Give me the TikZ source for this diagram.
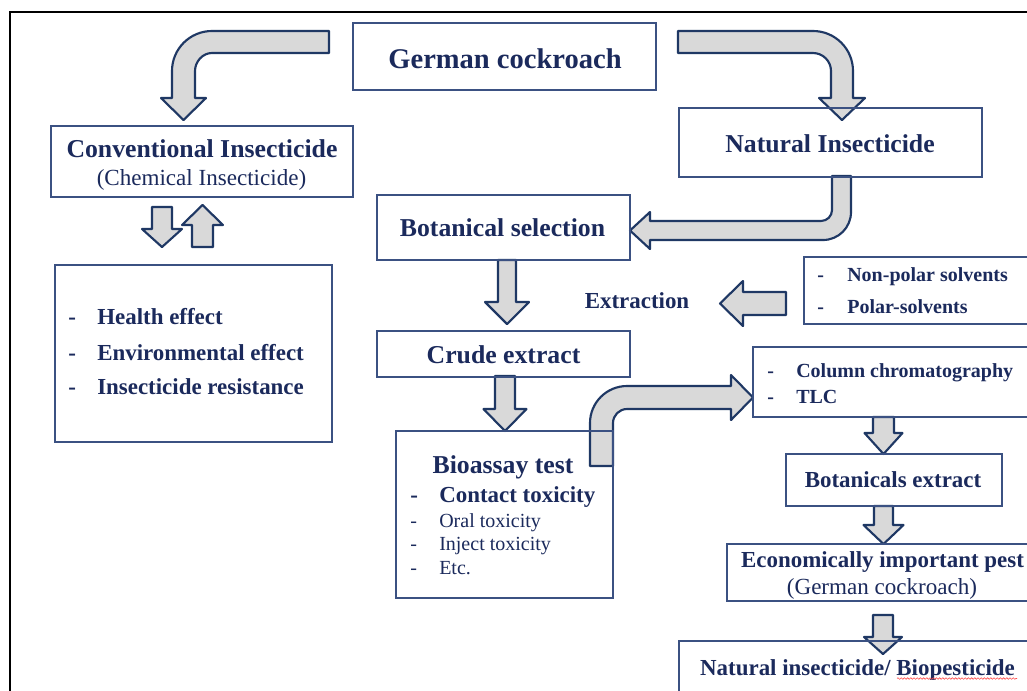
\documentclass[tikz,border=0pt]{standalone}
\usepackage{fontspec}
\setmainfont{Liberation Serif}
\usetikzlibrary{decorations.pathmorphing}
\definecolor{txt}{HTML}{1B2A5C}
\definecolor{bx}{HTML}{3B5182}
\definecolor{arw}{HTML}{1F3864}
\definecolor{agray}{HTML}{D9D9D9}
\newcommand\fsXL{\fontsize{21.4pt}{25pt}\selectfont\bfseries}
\newcommand\fsL{\fontsize{19.3pt}{23pt}\selectfont\bfseries}
\newcommand\fsM{\fontsize{17.2pt}{21pt}\selectfont\bfseries}
\newcommand\fsMr{\fontsize{17.3pt}{21pt}\selectfont}
\newcommand\fsS{\fontsize{15pt}{18pt}\selectfont\bfseries}
\newcommand\fsSr{\fontsize{15pt}{18pt}\selectfont}
\newcommand\mkvarrow[6]{\draw[barrow] ({#1-#5},#2) -- ({#1-#5},#3) -- ({#1-#6},#3) -- (#1,#4) -- ({#1+#6},#3) -- ({#1+#5},#3) -- ({#1+#5},#2) -- cycle;}
\newcommand\mkharrow[6]{\draw[barrow] (#2,{#1-#5}) -- (#3,{#1-#5}) -- (#3,{#1-#6}) -- (#4,#1) -- (#3,{#1+#6}) -- (#3,{#1+#5}) -- (#2,{#1+#5}) -- cycle;}
\tikzset{
  barrow/.style={fill=agray, draw=arw, line width=1.6pt, line join=round},
  boxline/.style={draw=bx, line width=0.95pt},
  lbl/.style={inner sep=0pt, text=txt, anchor=base},
  lbll/.style={inner sep=0pt, text=txt, anchor=base west},
}
\begin{document}
\begin{tikzpicture}[x=0.75pt, y=-0.75pt]
\useasboundingbox (0,0) rectangle (1027,690);
\clip (0,0) rectangle (1027,690);
\fill[white] (0,0) rectangle (1027,690);
% outer frame
\draw[black, line width=1.6pt] (10,700) -- (10,12) -- (1040,12);

% ---- block arrows ----
% German cockroach -> Conventional
\draw[barrow] (329,31) -- (212,31) .. controls (189.9,31) and (172,48.9) .. (172,71) -- (172,98) -- (161,98) -- (183.5,120) -- (206,98) -- (195,98) -- (195,71) .. controls (195,61.6) and (202.6,53) .. (212,53) -- (329,53) -- cycle;
% German cockroach -> Natural
\draw[barrow] (678,31) -- (813,31) .. controls (835.1,31) and (853,48.9) .. (853,71) -- (853,98) -- (865,98) -- (842,120) -- (819,98) -- (831,98) -- (831,71) .. controls (831,61.1) and (822.9,53) .. (813,53) -- (678,53) -- cycle;
% Natural -> Botanical selection
\draw[barrow] (832,176) -- (851,176) -- (851,212) .. controls (851,227.5) and (838.5,240) .. (823,240) -- (650,240) -- (650,249) -- (630,230.5) -- (650,212) -- (650,221) -- (821,221) .. controls (827.1,221) and (832,216.1) .. (832,210) -- cycle;
% Bioassay -> Column chromatography
\draw[barrow] (590,466) -- (590,423) .. controls (590,402.6) and (606.6,386) .. (627,386) -- (731,386) -- (731,375) -- (753,397.5) -- (731,420) -- (731,409) -- (627,409) .. controls (619.3,409) and (613,415.3) .. (613,423) -- (613,466) -- cycle;
% straight arrows
\mkvarrow{162}{207}{229}{247}{10}{20}
\mkvarrow{202.5}{247}{225}{205}{10.5}{20.5}
\mkvarrow{507}{260}{302}{324}{9}{22}
\mkvarrow{505}{376}{409}{431}{10}{21.5}
\mkvarrow{883.5}{417}{433}{454}{10.5}{19}
\mkvarrow{883.5}{506}{525}{544}{9.5}{20}
\mkvarrow{883}{615}{637}{654}{10}{19}
\mkharrow{303.5}{786}{743}{720}{11.5}{22.5}

% ---- boxes ----
\draw[boxline] (353,23) rectangle (656,90);
\draw[boxline] (51,126) rectangle (353,197);
\draw[boxline] (55,265) rectangle (332,442);
\draw[boxline] (679,108) rectangle (982,177);
\draw[boxline] (377,195) rectangle (630,260);
\draw[boxline] (804,257) rectangle (1040,324);
\draw[boxline] (377,331) rectangle (630,377);
\draw[boxline] (396,431) rectangle (613,598);
\draw[boxline] (753,347) rectangle (1040,417);
\draw[boxline] (786,454) rectangle (1002,506);
\draw[boxline] (727,544) rectangle (1040,601);
\draw[boxline] (679,641) rectangle (1040,700);

% ---- texts ----
\node[lbl] (gc) at (505,68) {\fsXL German cockroach};
\node[lbl] (ci) at (202,157) {\fsL Conventional Insecticide};
\node[lbl] (ci2) at (201.5,185) {\fsMr (Chemical Insecticide)};
\node[lbll] (e1d) at (68,324) {\fsM -};
\node[lbll] (e1) at (97,324) {\fsM Health effect};
\node[lbll] (e2d) at (68,360) {\fsM -};
\node[lbll] (e2) at (97,360) {\fsM Environmental effect};
\node[lbll] (e3d) at (68,394) {\fsM -};
\node[lbll] (e3) at (97,394) {\fsM Insecticide resistance};
\node[lbl] (ni) at (830,152) {\fsL Natural Insecticide};
\node[lbl] (bs) at (502.5,236) {\fsL Botanical selection};
\node[lbl] (ex) at (637,308) {\fsM Extraction};
\node[lbll] (s1d) at (817,281) {\fsS -};
\node[lbll] (s1) at (847,281) {\fsS Non-polar solvents};
\node[lbll] (s2d) at (817,313) {\fsS -};
\node[lbll] (s2) at (847,313) {\fsS Polar-solvents};
\node[lbl] (ce) at (503.5,363) {\fsL Crude extract};
\node[lbl] (bio) at (503,473) {\fsL Bioassay test};
\node[lbll] (b1d) at (410,502) {\fsM -};
\node[lbll] (b1) at (439,502) {\fsM Contact toxicity};
\node[lbll] (b2d) at (410,527) {\fsSr -};
\node[lbll] (b2) at (439,527) {\fsSr Oral toxicity};
\node[lbll] (b3d) at (410,550) {\fsSr -};
\node[lbll] (b3) at (439,550) {\fsSr Inject toxicity};
\node[lbll] (b4d) at (410,574) {\fsSr -};
\node[lbll] (b4) at (439,574) {\fsSr Etc.};
\node[lbll] (c1d) at (767,377) {\fsS -};
\node[lbll] (c1) at (796,377) {\fsS Column chromatography};
\node[lbll] (c2d) at (767,403) {\fsS -};
\node[lbll] (c2) at (796,403) {\fsS TLC};
\node[lbl] (be) at (893,487) {\fsM Botanicals extract};
\node[lbl] (ec) at (882.5,567) {\fsM Economically important pest};
\node[lbl] (ec2) at (882,594) {\fsMr (German cockroach)};
\node[lbl] (fin) at (857.5,675) {\fsM Natural insecticide/ Biopesticide};
\draw[red!70, line width=0.45pt, decorate, decoration={snake, amplitude=0.6pt, segment length=2.4pt}] (897,678.5) -- (1017,678.5);
\end{tikzpicture}
\end{document}
